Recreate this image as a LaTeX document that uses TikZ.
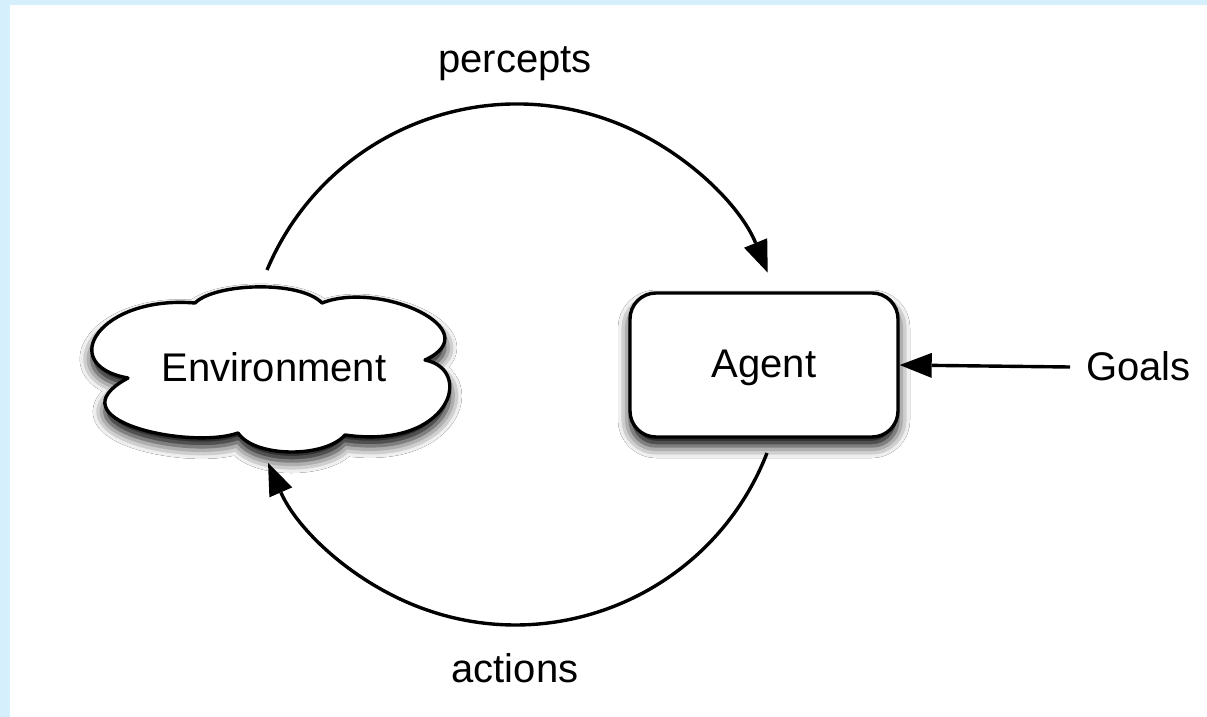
\documentclass[tikz,border=0pt]{standalone}
\usepackage{fontspec}
\setmainfont{Liberation Sans}
\usetikzlibrary{shadows.blur,arrows.meta}
\definecolor{frameblue}{RGB}{213,239,252}
\tikzset{
  lbl/.style={font=\fontsize{40}{48}\selectfont, anchor=base, inner sep=0pt},
  shad/.style={blur shadow={shadow xshift=0pt, shadow yshift=-9pt, shadow blur radius=12pt, shadow opacity=100}},
  conn/.style={draw=black, line width=3.4pt, -{Triangle[length=32pt,width=25pt,fill=black,line width=0pt]}},
  outline/.style={draw, line width=3.4pt, fill=white, shad},
}
\begin{document}
\begin{tikzpicture}[x=1pt,y=-1pt]
\fill[frameblue] (0,0) rectangle (1207,717);
\fill[white] (10,5) rectangle (1207,717);
\useasboundingbox (0,0) rectangle (1207,717);
% environment cloud
\path[outline, line join=round]
  (195,303) .. controls (215,283) and (300,280) .. (322,303)
  .. controls (380,280) and (490,330) .. (425,360)
  .. controls (475,370) and (450,450) .. (345,435)
  .. controls (325,458) and (255,458) .. (238,433)
  .. controls (190,450) and (50,420) .. (128,378)
  .. controls (55,365) and (100,295) .. (195,303) -- cycle;
\node[lbl] (env) at (274,381) {Environment};
% agent
\node[outline, rounded corners=26pt, minimum width=268pt, minimum height=144pt, inner sep=0pt] (agent) at (764,365) {};
\node[lbl] (agentt) at (764,377) {Agent};
% goals
\node[lbl, anchor=base west] (goals) at (1086,380) {Goals};
\coordinate (gstart) at (1070,367);
\draw[conn] (gstart) -- (agent.east);
% percepts arc
\coordinate (pstart) at (267,270);
\draw[conn] (pstart) arc[start angle=202.8, end angle=337.8, radius=271];
\node[lbl] (perc) at (515,72) {percepts};
% actions arc
\coordinate (astart) at (767,453);
\draw[conn] (astart) arc[start angle=21.3, end angle=156.4, radius=270];
\node[lbl] (act) at (515,682) {actions};
\end{tikzpicture}
\end{document}
